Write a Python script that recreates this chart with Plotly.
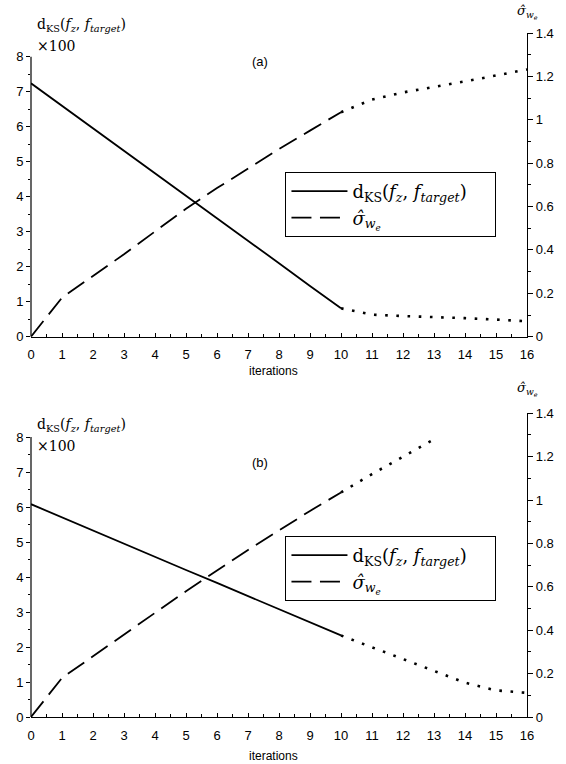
import plotly.graph_objects as go

# ---------------- data ----------------
iters_main = [0, 1, 2, 3, 4, 5, 6, 7, 8, 9, 10]
iters_tail = [10, 11, 12, 13, 14, 15, 16]
iters_tail_b_sig = [10, 11, 12, 13]

a_dks_main = [7.24, 6.60, 5.95, 5.31, 4.67, 4.02, 3.38, 2.74, 2.10, 1.45, 0.81]
a_dks_tail = [0.81, 0.63, 0.59, 0.565, 0.53, 0.49, 0.44]
a_sig_main = [0.0, 0.18, 0.28, 0.38, 0.485, 0.59, 0.685, 0.775, 0.865, 0.95, 1.035]
a_sig_tail = [1.035, 1.093, 1.126, 1.150, 1.177, 1.204, 1.232]

b_dks_main = [6.08, 5.70, 5.33, 4.95, 4.58, 4.20, 3.83, 3.45, 3.08, 2.70, 2.33]
b_dks_tail = [2.33, 1.99, 1.65, 1.31, 0.98, 0.76, 0.69]
b_sig_main = [0.0, 0.18, 0.28, 0.38, 0.48, 0.58, 0.675, 0.77, 0.86, 0.95, 1.035]
b_sig_tail = [1.035, 1.12, 1.20, 1.28]

x_ticks = list(range(0, 17))
left_ticks = list(range(0, 9))
left_minor = [i + 0.5 for i in range(0, 8)]
right_ticks = [0, 0.2, 0.4, 0.6, 0.8, 1.0, 1.2, 1.4]

dks_label = "d<sub>KS</sub>(<i>f<sub>z</sub></i>, <i>f<sub>target</sub></i>)"
sig_label = "<i>σ\u0302</i><sub><i>w<sub>e</sub></i></sub>"
x_label = "iterations"
PAD = "\u00a0" * 4

# ---------------- styling ----------------
SERIF = "DejaVu Serif"
SANS = "Arial, Liberation Sans"
LW = 1.8
DASH = "20px,8.5px"
DOT = "2.6px,8.6px"

fig = go.Figure()

def add_panel(xa, ya_l, ya_r, dks_m, dks_t, sig_m, sig_t, sig_t_x, legend):
    fig.add_trace(go.Scatter(x=iters_main, y=dks_m, mode="lines", name=dks_label + PAD,
                             line=dict(color="black", width=LW), xaxis=xa, yaxis=ya_l,
                             legend=legend))
    fig.add_trace(go.Scatter(x=iters_tail, y=dks_t, mode="lines", showlegend=False,
                             line=dict(color="black", width=2.6, dash=DOT), xaxis=xa, yaxis=ya_l))
    fig.add_trace(go.Scatter(x=iters_main, y=sig_m, mode="lines", name=sig_label,
                             line=dict(color="black", width=LW, dash=DASH), xaxis=xa, yaxis=ya_r,
                             legend=legend))
    fig.add_trace(go.Scatter(x=sig_t_x, y=sig_t, mode="lines", showlegend=False,
                             line=dict(color="black", width=2.6, dash=DOT), xaxis=xa, yaxis=ya_r))

add_panel("x", "y", "y2", a_dks_main, a_dks_tail, a_sig_main, a_sig_tail, iters_tail, "legend")
add_panel("x2", "y3", "y4", b_dks_main, b_dks_tail, b_sig_main, b_sig_tail, iters_tail_b_sig, "legend2")

H_PLOT = 684.0
top_dom = [(717 - 336.7) / H_PLOT, 1.0]
bot_dom = [0.0, 303.7 / H_PLOT]
LEFT_TOP = 8.677

tickfont = dict(family=SANS, size=13, color="black")

xcommon = dict(range=[0, 16], tickmode="array", tickvals=x_ticks, ticks="inside", ticklen=4,
               tickwidth=1, tickcolor="black", showline=True, linecolor="black", linewidth=1.2,
               showgrid=False, zeroline=False, tickfont=tickfont, ticklabelstandoff=6,
               minor=dict(tickmode="array", tickvals=[i + 0.5 for i in range(16)], ticks="inside",
                          ticklen=2.5, tickcolor="black", showgrid=False))
ylcommon = dict(range=[0, LEFT_TOP], tickmode="array", tickvals=left_ticks, ticks="outside",
                ticklen=4, tickwidth=1, tickcolor="black", showline=False, showgrid=False,
                zeroline=False, tickfont=tickfont,
                minor=dict(tickmode="array", tickvals=left_minor, ticks="outside", ticklen=2.5,
                           tickcolor="black", showgrid=False))
yrcommon = dict(range=[0, 1.4], tickmode="array", tickvals=right_ticks, ticks="outside",
                ticklen=5, tickwidth=1, tickcolor="black", showline=True, linecolor="black",
                linewidth=1.2, showgrid=False, zeroline=False, tickfont=tickfont, side="right",
                ticklabelstandoff=0,
                minor=dict(tickmode="array", tickvals=[0.1, 0.3, 0.5, 0.7, 0.9, 1.1, 1.3],
                           ticks="outside", ticklen=3, tickcolor="black", showgrid=False))

legend_common = dict(xanchor="left", yanchor="top", bordercolor="black", borderwidth=1,
                     bgcolor="white", font=dict(family=SERIF, size=18, color="black"),
                     itemwidth=56)

fig.update_layout(
    width=566, height=764,
    margin=dict(l=31, r=36, t=33, b=47),
    plot_bgcolor="white", paper_bgcolor="white",
    xaxis=dict(domain=[0, 1], anchor="y", **xcommon),
    yaxis=dict(domain=top_dom, anchor="x", **ylcommon),
    yaxis2=dict(overlaying="y", anchor="x", **yrcommon),
    xaxis2=dict(domain=[0, 1], anchor="y3", **xcommon),
    yaxis3=dict(domain=bot_dom, anchor="x2", **ylcommon),
    yaxis4=dict(overlaying="y3", anchor="x2", **yrcommon),
    legend=dict(x=(287 - 31) / 499, y=(717 - 172) / H_PLOT, **legend_common),
    legend2=dict(x=(287 - 31) / 499, y=(717 - 536) / H_PLOT, **legend_common),
)

# left axis spines only up to 8
for xr, yref in [("x domain", "y"), ("x2 domain", "y3")]:
    fig.add_shape(type="line", xref=xr, yref=yref,
                  x0=0, x1=0, y0=0, y1=8, line=dict(color="black", width=1.2))

def py(p):
    return (717 - p) / H_PLOT

def px(p):
    return (p - 31) / 499.0

ann = []
for off, lab, it_y, sig_y in [(0, "(a)", 371, 12), (400, "(b)", 756, 390)]:
    ann.append(dict(text=dks_label, x=px(35), y=py(25 + off), xanchor="left", yanchor="middle",
                    font=dict(family=SERIF, size=14, color="black")))
    ann.append(dict(text="×100", x=px(35), y=py(46 + off), xanchor="left", yanchor="middle",
                    font=dict(family=SERIF, size=14, color="black")))
    ann.append(dict(text=sig_label, x=px(530), y=py(sig_y), xanchor="center", yanchor="middle",
                    font=dict(family=SERIF, size=13, color="black")))
    ann.append(dict(text=lab, x=px(261), y=py(62 + off), xanchor="center", yanchor="middle",
                    font=dict(family=SANS, size=13, color="black")))
    ann.append(dict(text=x_label, x=px(275), y=py(it_y), xanchor="center", yanchor="middle",
                    font=dict(family=SANS, size=12, color="black")))
for a in ann:
    a.update(xref="paper", yref="paper", showarrow=False)
fig.update_layout(annotations=ann)

fig.write_html("out.html")
